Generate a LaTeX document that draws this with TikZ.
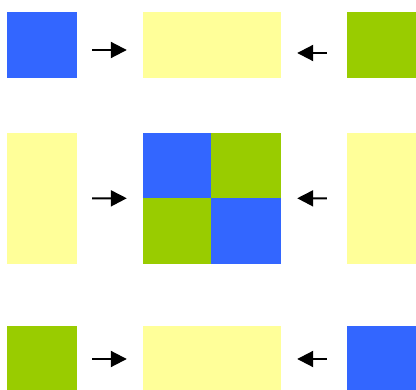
\documentclass[tikz,border=0pt]{standalone}
\usetikzlibrary{arrows.meta}
\definecolor{tileblue}{HTML}{3366FF}
\definecolor{tilegreen}{HTML}{99CC00}
\definecolor{tileyellow}{HTML}{FFFF99}

\begin{document}
\begin{tikzpicture}[x=1pt,y=-1pt,
  tile/.style={fill=#1,draw=none,inner sep=0pt,minimum width=70pt},
  push/.style={-{Triangle[length=16pt,width=16pt]},line width=2pt,
    shorten <=15pt,shorten >=16pt}]
  \useasboundingbox (0,0) rectangle (416,390);
  % top row: blue and green pushed into an empty strip
  \node[tile=tileblue,minimum height=66pt] (topL) at (42,45) {};
  \node[tile=tileyellow,minimum width=138pt,minimum height=66pt] (topC) at (212,45) {};
  \node[tile=tilegreen,minimum width=69pt,minimum height=66pt] (topR) at (381.5,45) {};
  \draw[push] ([yshift=-5pt]topL.east) -- ([yshift=-5pt]topC.west);
  \draw[push,shorten <=20pt] ([yshift=-8pt]topR.west) -- ([yshift=-8pt]topC.east);
  % middle row: the filled 2x2 block
  \node[tile=tileyellow,minimum height=131pt] (midL) at (42,198.5) {};
  \node[tile=tileblue,minimum width=68pt,minimum height=65pt] (midA) at (177,165.5) {};
  \node[tile=tilegreen,minimum width=70pt,minimum height=65pt] (midB) at (246,165.5) {};
  \node[tile=tilegreen,minimum width=68pt,minimum height=66pt] (midC) at (177,231) {};
  \node[tile=tileblue,minimum width=70pt,minimum height=66pt] (midD) at (246,231) {};
  \node[tile=tileyellow,minimum width=69pt,minimum height=131pt] (midR) at (381.5,198.5) {};
  \draw[push] (midL.east) -- (midA.south west);
  \draw[push,shorten <=20pt] (midR.west) -- (midB.south east);
  % bottom row: colours swapped
  \node[tile=tilegreen,minimum height=64pt] (botL) at (42,358) {};
  \node[tile=tileyellow,minimum width=138pt,minimum height=64pt] (botC) at (212,358) {};
  \node[tile=tileblue,minimum width=69pt,minimum height=64pt] (botR) at (381.5,358) {};
  \draw[push] ([yshift=-1pt]botL.east) -- ([yshift=-1pt]botC.west);
  \draw[push,shorten <=20pt] ([yshift=-1pt]botR.west) -- ([yshift=-1pt]botC.east);
\end{tikzpicture}
\end{document}
